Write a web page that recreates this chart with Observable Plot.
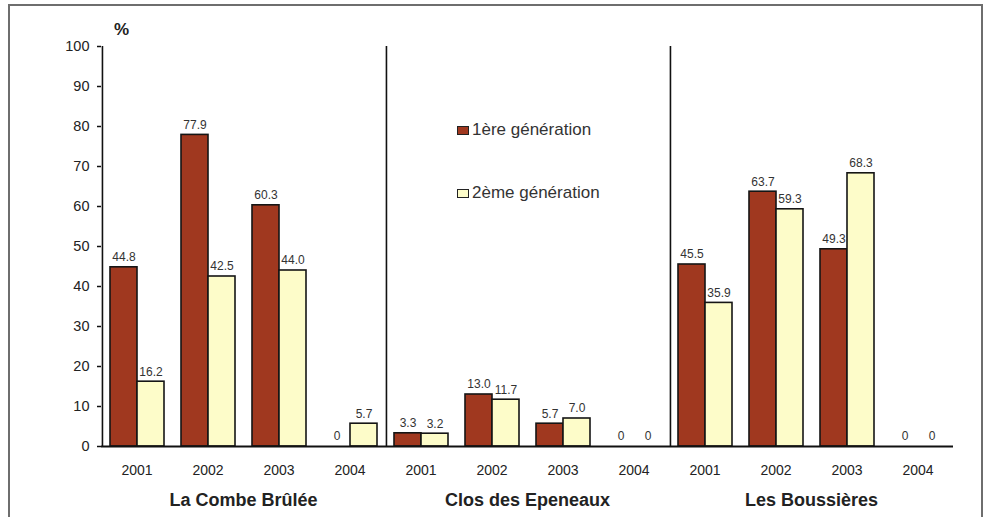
<!DOCTYPE html>
<html>
<head>
<meta charset="utf-8">
<script src="https://cdn.jsdelivr.net/npm/d3@7"></script>
<script src="https://cdn.jsdelivr.net/npm/@observablehq/plot@0.6"></script>
<style>
  html, body { margin: 0; padding: 0; background: #fff; overflow: hidden; }
  #wrap { position: relative; width: 989px; height: 517px; font-family: "Liberation Sans", Arial, sans-serif; color: #222; }
  #border { position: absolute; left: 8px; top: 4px; width: 975px; height: 600px; border: 2px solid #6e6e6e; box-sizing: border-box; pointer-events: none; }
  #unit { position: absolute; left: 114px; top: 20px; font-size: 17px; font-weight: bold; color: #222; }
  .leg { position: absolute; display: flex; align-items: center; font-size: 17px; color: #333; white-space: nowrap; }
  .sw { width: 10px; height: 7px; border: 1.5px solid #222; margin-right: 3px; }
  #chart { position: absolute; left: 0; top: 0; }
</style>
</head>
<body>
<div id="wrap">
  <div id="chart"></div>
  <div id="border"></div>
  <div id="unit">%</div>
  <div id="legend"></div>
</div>
<script>
// ---- data ----
const sites = ["La Combe Brûlée", "Clos des Epeneaux", "Les Boussières"];
const years = ["2001", "2002", "2003", "2004"];
const generations = ["1ère génération", "2ème génération"];
const colors = ["#a0381f", "#fdfcc9"];
const gen1 = [44.8, 77.9, 60.3, 0, 3.3, 13.0, 5.7, 0, 45.5, 63.7, 49.3, 0];
const gen2 = [16.2, 42.5, 44.0, 5.7, 3.2, 11.7, 7.0, 0, 35.9, 59.3, 68.3, 0];
const yTicks = [0, 10, 20, 30, 40, 50, 60, 70, 80, 90, 100];

// ---- build table ----
const keys = [];
const rows = [];
sites.forEach((s, si) => {
  years.forEach((y, yi) => {
    const key = s + "|" + y;
    keys.push(key);
    const i = si * years.length + yi;
    rows.push({key, site: s, year: y, gen: generations[0], value: gen1[i]});
    rows.push({key, site: s, year: y, gen: generations[1], value: gen2[i]});
  });
});
const sepKeys = sites.map(s => s + "|" + years[0]);
const groupLabels = sites.map(s => ({key: s + "|" + years[1], site: s}));
const fmt = v => v === 0 ? "0" : v.toFixed(1);

// layout
const W = 989, H = 517, mL = 100, mR = 36, mT = 46, mB = 71;
const padOuter = 0.27;
const facetW = (W - mL - mR) / keys.length;
const step = facetW / (generations.length + 2 * padOuter);
// rule on the first generation band sits at its centre; shift to the facet's left edge
const sepDx = -(padOuter * step + step / 2);

const chart = Plot.plot({
  width: W,
  height: H,
  marginLeft: mL,
  marginRight: mR,
  marginTop: mT,
  marginBottom: mB,
  style: {fontFamily: "'Liberation Sans', Arial, sans-serif", background: "transparent", overflow: "visible", color: "#222"},
  fx: {domain: keys, paddingInner: 0, paddingOuter: 0, label: null},
  x: {domain: generations, paddingInner: 0, paddingOuter: padOuter, axis: null},
  y: {domain: [0, 100], label: null},
  color: {domain: generations, range: colors},
  marks: [
    Plot.axisY({ticks: yTicks, tickSize: 4, tickPadding: 8, fontSize: 14.5, label: null, stroke: "#111", strokeWidth: 1.5}),
    Plot.axisFx({anchor: "bottom", tickSize: 0, tickPadding: 19, fontSize: 14, label: null, tickFormat: k => k.split("|")[1]}),
    Plot.barY(rows, {fx: "key", x: "gen", y: "value", fill: "gen", stroke: "#151515", strokeWidth: 1.6}),
    Plot.text(rows, {fx: "key", x: "gen", y: "value", text: d => fmt(d.value), dy: -10, fontSize: 12, fill: "#333"}),
    Plot.ruleY([0], {stroke: "#111", strokeWidth: 2}),
    Plot.ruleX(sepKeys, {fx: d => d, x: () => generations[0], y1: 0, y2: yTicks[yTicks.length - 1], dx: sepDx, stroke: "#111", strokeWidth: 1.6}),
    Plot.text(groupLabels, {fx: "key", text: "site", frameAnchor: "bottom-right", textAnchor: "middle", lineAnchor: "middle", dy: 54, fontSize: 18, fontWeight: "bold", fill: "#222"})
  ]
});
document.getElementById("chart").appendChild(chart);

// ---- legend ----
const legend = document.getElementById("legend");
const legendPos = [{left: 457, top: 120}, {left: 457, top: 183}];
generations.forEach((g, i) => {
  const item = document.createElement("div");
  item.className = "leg";
  item.style.left = legendPos[i].left + "px";
  item.style.top = legendPos[i].top + "px";
  const sw = document.createElement("span");
  sw.className = "sw";
  sw.style.background = colors[i];
  const t = document.createElement("span");
  t.textContent = g;
  item.appendChild(sw);
  item.appendChild(t);
  legend.appendChild(item);
});
</script>
</body>
</html>
